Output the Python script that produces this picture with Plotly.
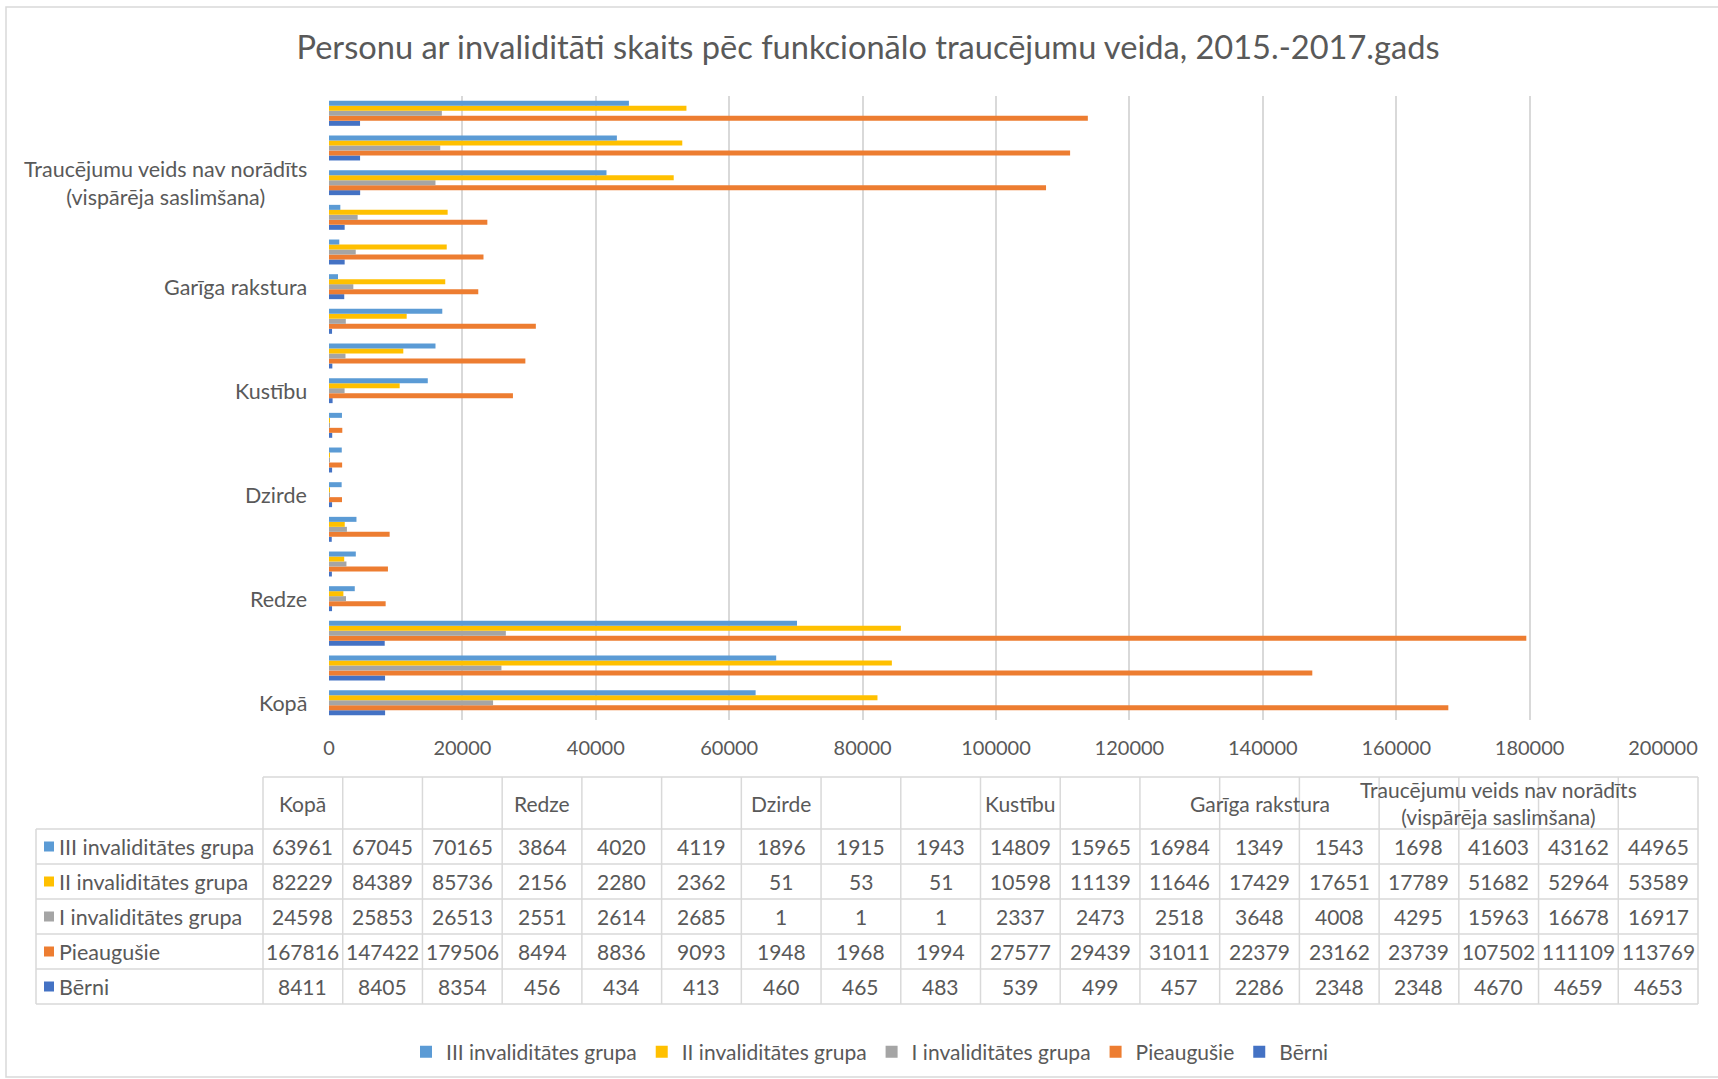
import plotly.graph_objects as go

# ---------------- data ----------------
groups = ["Kopā", "Redze", "Dzirde", "Kustību", "Garīga rakstura",
          "Traucējumu veids nav norādīts<br>(vispārēja saslimšana)"]
years_per_group = 3

series_names = ["III invaliditātes grupa", "II invaliditātes grupa",
                "I invaliditātes grupa", "Pieaugušie", "Bērni"]
series_colors = ["#5B9BD5", "#FFC000", "#A5A5A5", "#ED7D31", "#4472C4"]

iii_grupa = [63961, 67045, 70165, 3864, 4020, 4119, 1896, 1915, 1943,
             14809, 15965, 16984, 1349, 1543, 1698, 41603, 43162, 44965]
ii_grupa = [82229, 84389, 85736, 2156, 2280, 2362, 51, 53, 51,
            10598, 11139, 11646, 17429, 17651, 17789, 51682, 52964, 53589]
i_grupa = [24598, 25853, 26513, 2551, 2614, 2685, 1, 1, 1,
           2337, 2473, 2518, 3648, 4008, 4295, 15963, 16678, 16917]
pieaugusie = [167816, 147422, 179506, 8494, 8836, 9093, 1948, 1968, 1994,
              27577, 29439, 31011, 22379, 23162, 23739, 107502, 111109, 113769]
berni = [8411, 8405, 8354, 456, 434, 413, 460, 465, 483,
         539, 499, 457, 2286, 2348, 2348, 4670, 4659, 4653]

series_values = [iii_grupa, ii_grupa, i_grupa, pieaugusie, berni]

x_tick_vals = [0, 20000, 40000, 60000, 80000, 100000, 120000, 140000, 160000, 180000, 200000]

# ---------------- layout geometry (pixels) ----------------
W, H = 1718, 1079
L, R, T, B = 329, 55, 96, 359
PW, PH = W - L - R, H - T - B
FONT = "Lato, 'Open Sans', sans-serif"
TXT = "#595959"
GRID = "#D9D9D9"


def px_x(px):
    return (px - L) / PW


def px_y(py):
    return (H - B - py) / PH


n_cat = len(iii_grupa)
ypos = list(range(n_cat))

fig = go.Figure()
# bottom-most bar in each category is the last series (Bērni)
for name, color, vals in reversed(list(zip(series_names, series_colors, series_values))):
    fig.add_trace(go.Bar(
        x=vals, y=ypos, orientation="h", name=name,
        marker=dict(color=color, line=dict(width=0)),
        hoverinfo="x+name",
    ))

annotations = []
shapes = []

# category labels on the y axis
for g, label in enumerate(groups):
    annotations.append(dict(
        x=px_x(309), xref="paper", y=g * years_per_group, yref="y",
        text=label, showarrow=False, xanchor="right", yanchor="middle",
        align="center", font=dict(family=FONT, size=21.5, color=TXT)))

# ---------------- data table below ----------------
tab_left = 36
col0_right = 263
tab_right = 1698
col_w = (tab_right - col0_right) / n_cat
head_top, head_bot = 777, 829
row_h = (1004 - 829) / len(series_names)

# horizontal lines
shapes.append(dict(type="line", xref="paper", yref="paper",
                   x0=px_x(col0_right), x1=px_x(tab_right),
                   y0=px_y(head_top), y1=px_y(head_top),
                   line=dict(color=GRID, width=1.5)))
for r in range(len(series_names) + 1):
    yy = head_bot + r * row_h
    shapes.append(dict(type="line", xref="paper", yref="paper",
                       x0=px_x(tab_left), x1=px_x(tab_right),
                       y0=px_y(yy), y1=px_y(yy),
                       line=dict(color=GRID, width=1.5)))
# vertical lines
shapes.append(dict(type="line", xref="paper", yref="paper",
                   x0=px_x(tab_left), x1=px_x(tab_left),
                   y0=px_y(head_bot), y1=px_y(head_bot + len(series_names) * row_h),
                   line=dict(color=GRID, width=1.5)))
for c in range(n_cat + 1):
    xx = col0_right + c * col_w
    shapes.append(dict(type="line", xref="paper", yref="paper",
                       x0=px_x(xx), x1=px_x(xx),
                       y0=px_y(head_top), y1=px_y(head_bot + len(series_names) * row_h),
                       line=dict(color=GRID, width=1.5)))

# header labels
for g, label in enumerate(groups):
    c = g * years_per_group
    annotations.append(dict(
        x=px_x(col0_right + (c + 0.5) * col_w), xref="paper",
        y=px_y((head_top + head_bot) / 2), yref="paper",
        text=label, showarrow=False, xanchor="center", yanchor="middle",
        align="center", font=dict(family=FONT, size=21, color=TXT)))

# rows
for r, (name, color, vals) in enumerate(zip(series_names, series_colors, series_values)):
    yc = head_bot + (r + 0.5) * row_h
    shapes.append(dict(type="rect", xref="paper", yref="paper",
                       x0=px_x(44), x1=px_x(54), y0=px_y(yc - 5), y1=px_y(yc + 5),
                       fillcolor=color, line=dict(width=0)))
    annotations.append(dict(
        x=px_x(57), xref="paper", y=px_y(yc), yref="paper",
        text=name, showarrow=False, xanchor="left", yanchor="middle",
        font=dict(family=FONT, size=21.5, color=TXT)))
    for c, v in enumerate(vals):
        annotations.append(dict(
            x=px_x(col0_right + (c + 0.5) * col_w), xref="paper",
            y=px_y(yc), yref="paper",
            text=str(v), showarrow=False, xanchor="center", yanchor="middle",
            font=dict(family=FONT, size=21, color=TXT)))

# chart frame
shapes.append(dict(type="rect", xref="paper", yref="paper",
                   x0=px_x(6), x1=px_x(1730), y0=px_y(7), y1=px_y(1077),
                   line=dict(color=GRID, width=1.5), fillcolor="rgba(0,0,0,0)"))

fig.update_layout(
    width=W, height=H,
    margin=dict(l=L, r=R, t=T, b=B, autoexpand=False),
    paper_bgcolor="white", plot_bgcolor="white",
    barmode="group", bargap=0.28, bargroupgap=0,
    title=dict(text="Personu ar invaliditāti skaits pēc funkcionālo traucējumu veida, 2015.-2017.gads",
               x=868 / W, y=1 - 48 / H, xref="container", yref="container",
               xanchor="center", yanchor="middle",
               font=dict(family=FONT, size=32.6, color=TXT)),
    xaxis=dict(range=[0, 200000], tickvals=x_tick_vals, tickformat="d", showgrid=True,
               gridcolor=GRID, gridwidth=1.5, zeroline=False, showline=False,
               ticks="", tickfont=dict(family=FONT, size=20, color=TXT),
               ticklabelstandoff=14),
    yaxis=dict(range=[-0.5, n_cat - 0.5], showticklabels=False, showgrid=False,
               zeroline=False, showline=False, ticks=""),
    legend=dict(orientation="h", traceorder="reversed", xref="container", yref="container",
                x=870 / W, y=1 - 1052 / H, xanchor="center", yanchor="middle",
                font=dict(family=FONT, size=21, color=TXT), itemwidth=30),
    annotations=annotations, shapes=shapes,
    showlegend=True,
)

fig.write_html("out.html", config={"displayModeBar": False},
               post_script="document.body.style.margin='0';document.body.style.overflow='hidden';")
